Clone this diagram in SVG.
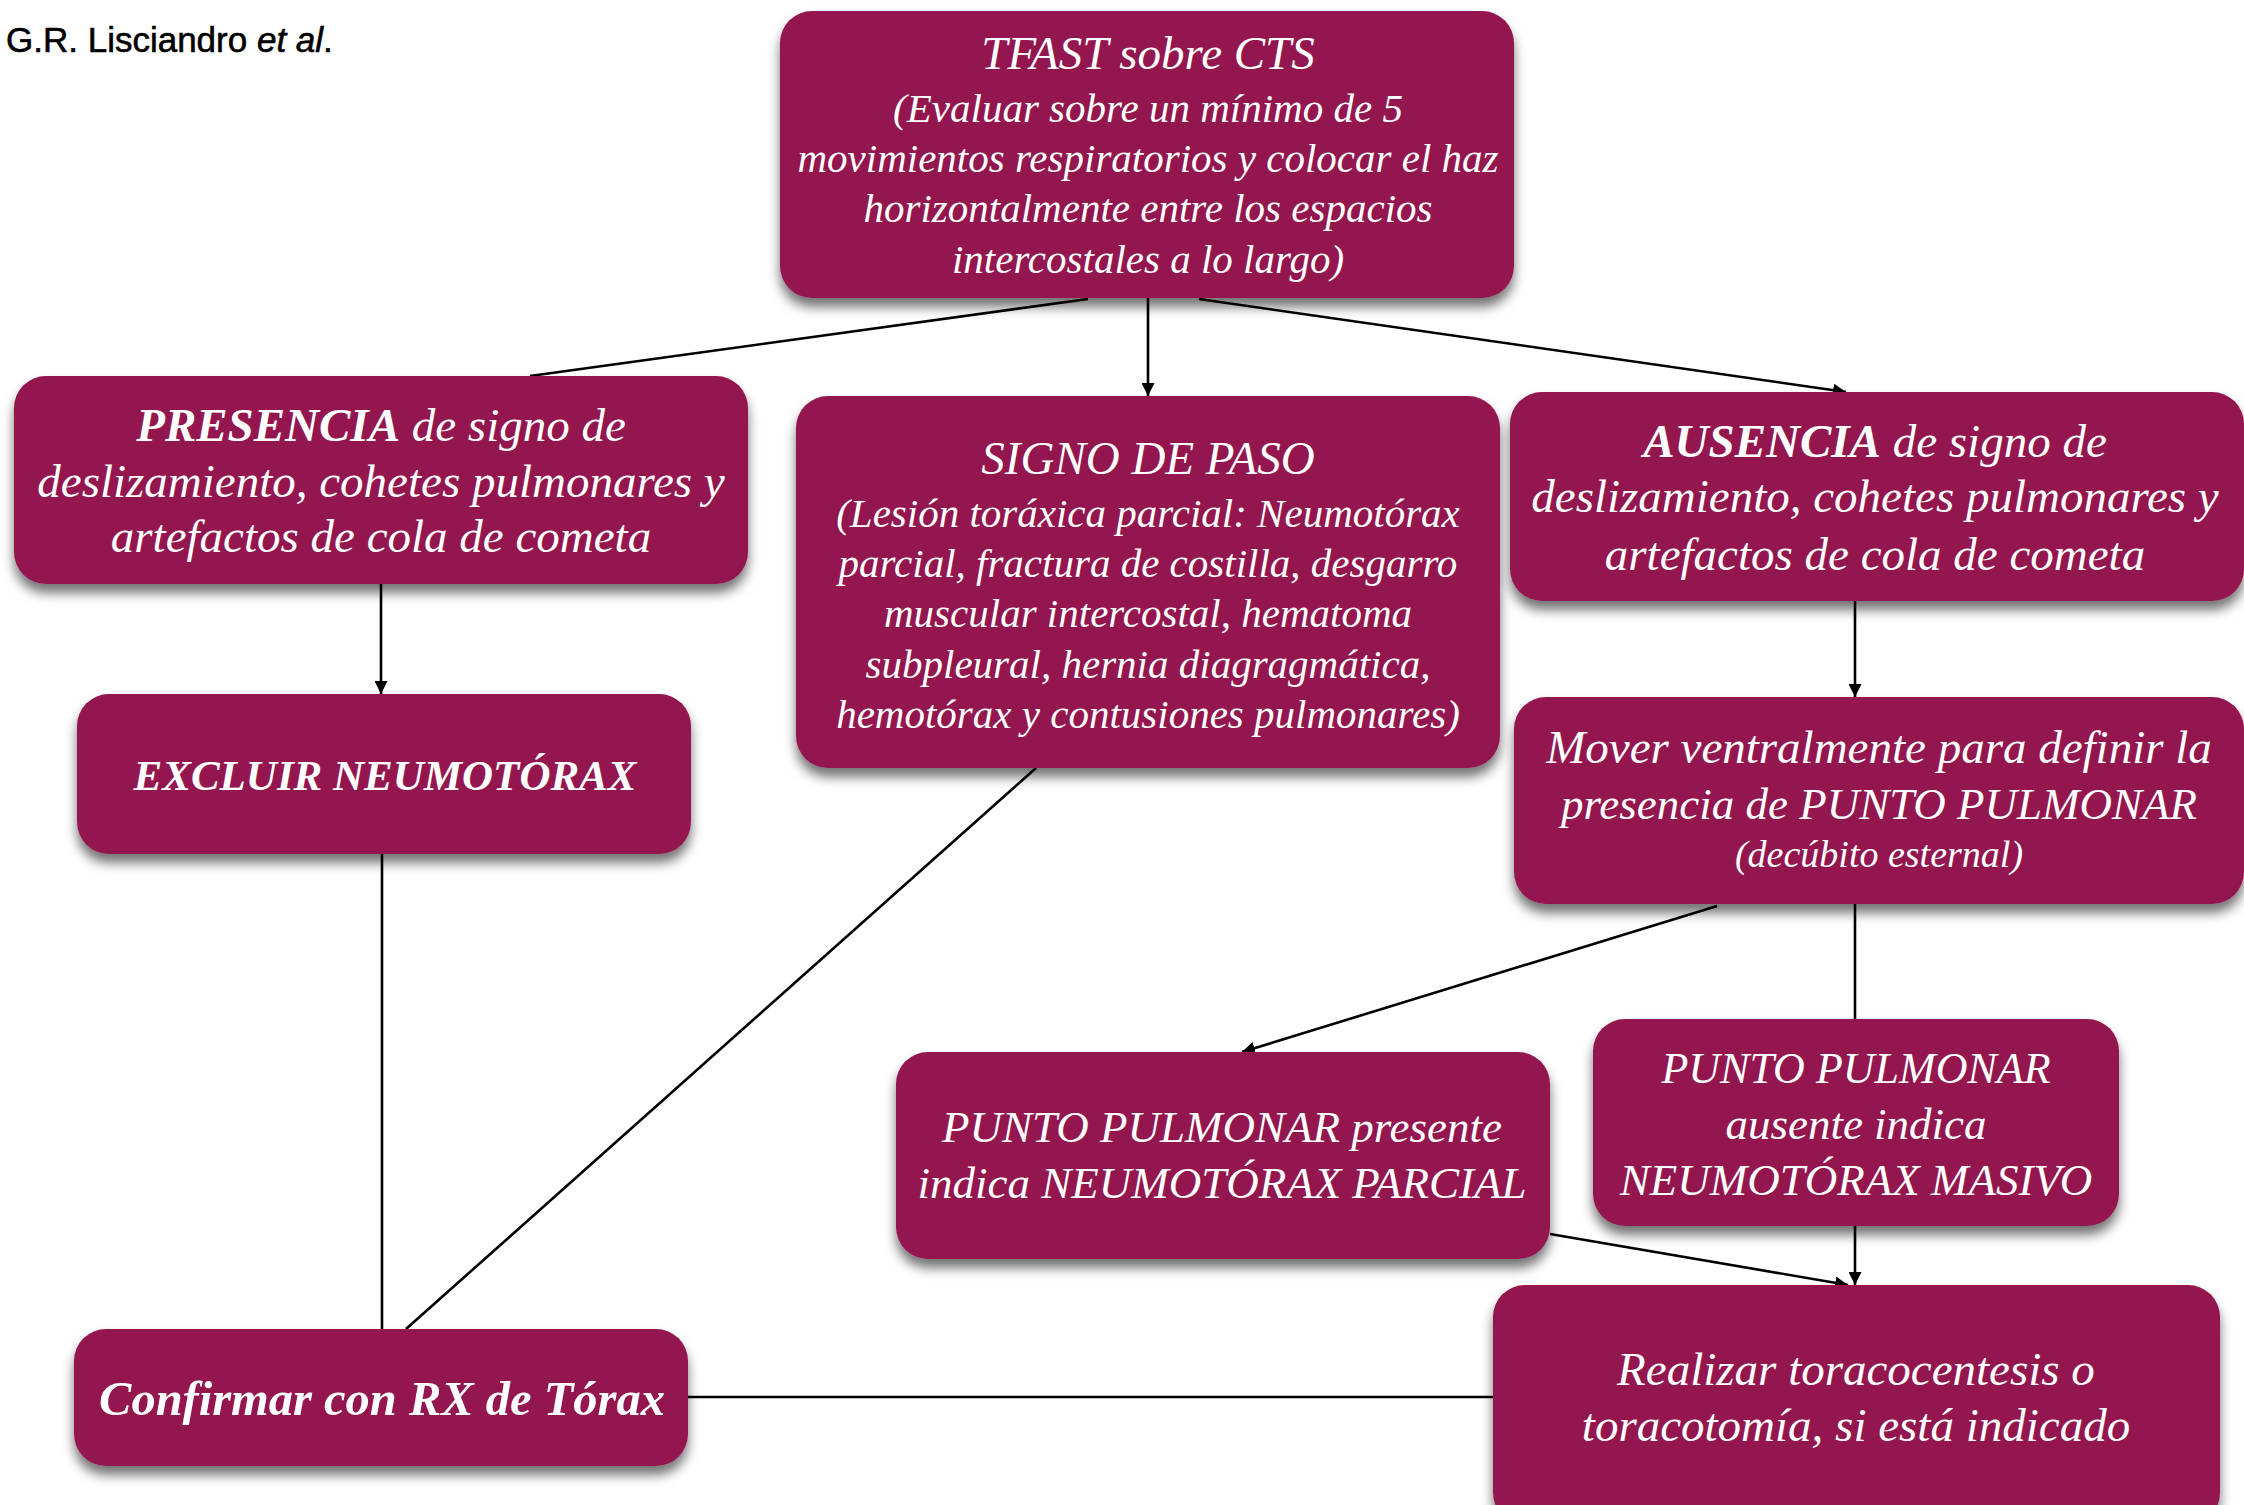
<svg xmlns="http://www.w3.org/2000/svg" width="2244" height="1505" viewBox="0 0 2244 1505">
<defs>
<filter id="sh" x="-10%" y="-10%" width="120%" height="135%">
<feDropShadow dx="0" dy="9" stdDeviation="6" flood-color="#000" flood-opacity="0.55"/>
</filter>
<marker id="ah" viewBox="0 0 10 10" refX="10" refY="5" markerWidth="5" markerHeight="5" orient="auto" markerUnits="strokeWidth">
<path d="M0,0 L10,5 L0,10 z" fill="#000"/>
</marker>
</defs>
<style>
.box{fill:#941750;filter:url(#sh)}
.t{fill:#fff;font-family:"Liberation Serif","Times New Roman",serif;font-style:italic;text-anchor:middle}
.h{font-size:47px}
.b{font-size:41px}
.bold{font-weight:bold}
.c{stroke:#000;stroke-width:2.6;fill:none}
.ca{stroke:#000;stroke-width:2.6;fill:none;marker-end:url(#ah)}
</style>
<rect width="2244" height="1505" fill="#fff"/>
<text x="6" y="52" font-family="'Liberation Sans',Arial,sans-serif" font-size="35" fill="#000" stroke="#000" stroke-width="0.6">G.R. Lisciandro <tspan font-style="italic">et al</tspan>.</text>

<g id="connectors">
<line class="ca" x1="1148" y1="298" x2="1148" y2="396"/>
<line class="c" x1="1088" y1="299" x2="530" y2="376"/>
<line class="ca" x1="1199" y1="299" x2="1846" y2="392"/>
<line class="ca" x1="381" y1="584" x2="381" y2="694"/>
<line class="ca" x1="1855" y1="601" x2="1855" y2="697"/>
<line class="ca" x1="1717" y1="906" x2="1242" y2="1052"/>
<line class="c" x1="1855" y1="904" x2="1855" y2="1019"/>
<line class="ca" x1="1855" y1="1226" x2="1855" y2="1285"/>
<line class="ca" x1="1550" y1="1234" x2="1848" y2="1285"/>
<line class="c" x1="382" y1="854" x2="382" y2="1329"/>
<line class="c" x1="1036" y1="768" x2="406" y2="1329"/>
<line class="c" x1="688" y1="1397" x2="1493" y2="1397"/>
</g>

<g id="n-tfast">
<rect class="box" x="780" y="11" width="734" height="287" rx="32"/>
<text class="t h" x="1148" y="69">TFAST sobre CTS</text>
<text class="t b" x="1148" y="122">(Evaluar sobre un mínimo de 5</text>
<text class="t b" x="1148" y="172">movimientos respiratorios y colocar el haz</text>
<text class="t b" x="1148" y="222">horizontalmente entre los espacios</text>
<text class="t b" x="1148" y="273">intercostales a lo largo)</text>
</g>

<g id="n-presencia">
<rect class="box" x="14" y="376" width="734" height="208" rx="32"/>
<text class="t h" x="381" y="441"><tspan class="bold">PRESENCIA</tspan> de signo de</text>
<text class="t h" x="381" y="497">deslizamiento, cohetes pulmonares y</text>
<text class="t h" x="381" y="552">artefactos de cola de cometa</text>
</g>

<g id="n-signo">
<rect class="box" x="796" y="396" width="704" height="372" rx="32"/>
<text class="t h" x="1148" y="474">SIGNO DE PASO</text>
<text class="t b" x="1148" y="527">(Lesión toráxica parcial: Neumotórax</text>
<text class="t b" x="1148" y="577">parcial, fractura de costilla, desgarro</text>
<text class="t b" x="1148" y="627">muscular intercostal, hematoma</text>
<text class="t b" x="1148" y="678">subpleural, hernia diagragmática,</text>
<text class="t b" x="1148" y="728">hemotórax y contusiones pulmonares)</text>
</g>

<g id="n-ausencia">
<rect class="box" x="1510" y="392" width="734" height="209" rx="32"/>
<text class="t h" x="1875" y="457"><tspan class="bold">AUSENCIA</tspan> de signo de</text>
<text class="t h" x="1875" y="512">deslizamiento, cohetes pulmonares y</text>
<text class="t h" x="1875" y="570">artefactos de cola de cometa</text>
</g>

<g id="n-excluir">
<rect class="box" x="77" y="694" width="614" height="160" rx="32"/>
<text class="t bold" x="385" y="790" font-size="43">EXCLUIR NEUMOTÓRAX</text>
</g>

<g id="n-mover">
<rect class="box" x="1514" y="697" width="730" height="207" rx="32"/>
<text class="t h" x="1879" y="763">Mover ventralmente para definir la</text>
<text class="t" x="1879" y="819" font-size="45">presencia de PUNTO PULMONAR</text>
<text class="t" x="1879" y="867" font-size="38">(decúbito esternal)</text>
</g>

<g id="n-presente">
<rect class="box" x="896" y="1052" width="654" height="207" rx="32"/>
<text class="t" x="1222" y="1142" font-size="45">PUNTO PULMONAR presente</text>
<text class="t" x="1222" y="1198" font-size="45">indica NEUMOTÓRAX PARCIAL</text>
</g>

<g id="n-ausente">
<rect class="box" x="1593" y="1019" width="526" height="207" rx="32"/>
<text class="t" x="1856" y="1083" font-size="44">PUNTO PULMONAR</text>
<text class="t" x="1856" y="1139" font-size="45">ausente indica</text>
<text class="t" x="1856" y="1195" font-size="45">NEUMOTÓRAX MASIVO</text>
</g>

<g id="n-confirmar">
<rect class="box" x="74" y="1329" width="614" height="137" rx="32"/>
<text class="t bold" x="382" y="1415" font-size="48.5">Confirmar con RX de Tórax</text>
</g>

<g id="n-realizar">
<rect class="box" x="1493" y="1285" width="727" height="240" rx="32"/>
<text class="t h" x="1856" y="1385">Realizar toracocentesis o</text>
<text class="t h" x="1856" y="1441">toracotomía, si está indicado</text>
</g>
</svg>
